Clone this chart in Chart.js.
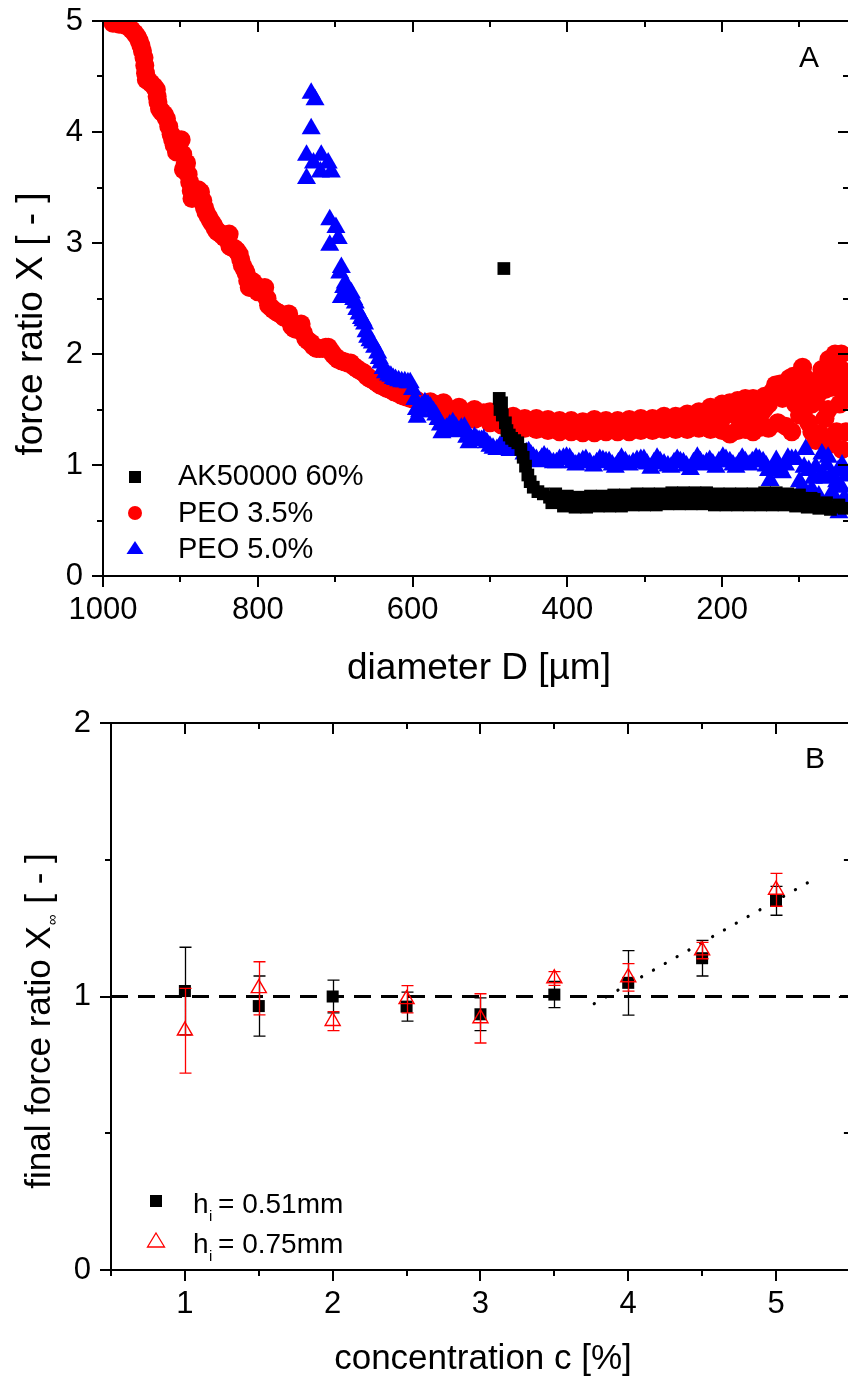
<!DOCTYPE html>
<html>
<head>
<meta charset="utf-8">
<script src="https://cdn.jsdelivr.net/npm/chart.js@4.4.1/dist/chart.umd.min.js"></script>
<style>
  html, body { margin: 0; padding: 0; background: #fff; }
  #wrap { position: relative; width: 848px; height: 1379px; overflow: hidden; }
  #wrap canvas { position: absolute; left: 0; }
  #topChart { top: 0; }
  #botChart { top: 700px; }
</style>
</head>
<body>
<div id="wrap">
  <canvas id="topChart" width="860" height="700"></canvas>
  <canvas id="botChart" width="860" height="679"></canvas>
</div>
<script>
// ---- panel A: force ratio vs diameter, [D (µm), X] ----
const ak50000 = [
  [482,2.77],[488,1.60],[485,1.56],[487,1.50],[484,1.45],[480,1.38],[478,1.31],[475,1.27],[472,1.24],
  [468,1.22],[464,1.20],[460,1.14],[457,1.07],[454,0.99],[451,0.91],[448,0.85],[444,0.80],[438,0.76],
  [431,0.74],[423,0.71],[416,0.70],[408,0.67],[400,0.66],[392,0.64],[385,0.66],[377,0.64],[369,0.67],
  [361,0.65],[353,0.68],[345,0.65],[337,0.69],[329,0.66],[321,0.70],[313,0.66],[305,0.70],[297,0.67],
  [289,0.71],[281,0.67],[273,0.71],[265,0.68],[257,0.72],[249,0.68],[241,0.72],[233,0.68],[225,0.72],
  [217,0.68],[209,0.71],[201,0.67],[193,0.71],[185,0.67],[177,0.71],[169,0.67],[161,0.71],[153,0.67],
  [145,0.71],[137,0.67],[129,0.72],[121,0.67],[113,0.71],[105,0.66],[97,0.70],[89,0.65],[81,0.69],
  [73,0.64],[65,0.66],[57,0.62],[49,0.64],[42,0.61],
  [420,0.66],[405,0.63],[390,0.62],[375,0.62],[360,0.63],[345,0.63],[330,0.63],[315,0.64],[300,0.64],
  [285,0.64],[270,0.65],[255,0.65],[240,0.65],[225,0.65],[210,0.64],[195,0.64],[180,0.64],[165,0.64],
  [150,0.64],[135,0.64],[120,0.64],[105,0.63],[90,0.62],[75,0.61],[60,0.60],
  [415,0.74],[400,0.72],[385,0.71],[370,0.72],[355,0.72],[340,0.73],[325,0.73],[310,0.74],[295,0.74],
  [280,0.74],[265,0.75],[250,0.75],[235,0.75],[220,0.75],[205,0.74],[190,0.74],[175,0.74],[160,0.74],
  [145,0.75],[130,0.75],[115,0.74],[100,0.73],[85,0.70]
];
const peo35 = [
  [987,4.98],[983,4.99],[979,4.97],[975,4.98],[971,4.96],[967,4.95],[963,4.92],[959,4.89],[956,4.86],
  [953,4.82],[951,4.78],[949,4.73],[947,4.67],[946,4.60],[945,4.53],[944,4.47],[941,4.46],[938,4.44],
  [934,4.41],[931,4.38],[930,4.32],[929,4.27],[927,4.21],[924,4.18],[921,4.16],[918,4.12],[915,4.05],
  [912,3.98],[910,3.93],[908,3.88],[905,3.82],[902,3.88],[899,3.93],[897,3.80],[896,3.66],[894,3.70],
  [892,3.72],[890,3.62],[888,3.55],[886,3.47],[885,3.40],[882,3.43],[880,3.46],[877,3.48],[874,3.46],
  [871,3.38],[869,3.32],[867,3.28],[864,3.24],[861,3.20],[858,3.17],[855,3.13],[852,3.10],[849,3.09],
  [846,3.07],[843,3.05],[840,3.07],[837,3.08],[836,2.97],[833,2.96],[830,2.95],[827,2.93],[824,2.90],
  [822,2.85],[820,2.80],[817,2.76],[815,2.73],[813,2.66],[811,2.60],[809,2.66],[806,2.65],[803,2.62],
  [800,2.56],[797,2.56],[794,2.59],[791,2.60],[788,2.50],[786,2.44],[783,2.42],[780,2.40],[776,2.38],
  [773,2.37],[769,2.35],[766,2.33],[763,2.35],[760,2.36],[758,2.29],[756,2.25],[753,2.23],[750,2.22],
  [747,2.25],[744,2.27],[741,2.19],[738,2.14],[735,2.12],[731,2.10],[728,2.07],[724,2.05],[720,2.05],
  [716,2.05],[712,2.06],[709,2.06],[705,2.02],[702,1.99],[699,1.97],[696,1.95],[692,1.94],[688,1.93],
  [684,1.92],[680,1.92],[676,1.89],[672,1.87],[668,1.85],[663,1.83],[659,1.80],[655,1.78],[650,1.76],
  [646,1.74],[642,1.72],[638,1.71],[633,1.69],[629,1.68],[624,1.66],[620,1.65],[615,1.63],[611,1.62],
  [607,1.61],[603,1.60],[598,1.59],[594,1.58],[590,1.56],[586,1.55],[581,1.56],[577,1.57],[572,1.55],
  [568,1.54],[564,1.52],[560,1.51],[555,1.50],[551,1.50],[547,1.48],[542,1.47],[538,1.47],[534,1.47],
  [529,1.46],[525,1.46],[520,1.45],[516,1.44],[512,1.45],[508,1.47],[503,1.44],[499,1.42],[495,1.41],
  [491,1.41],[486,1.40],[482,1.40],[478,1.39],[474,1.38],[469,1.38],[465,1.39],[461,1.38],[456,1.37],
  [452,1.36],[448,1.35],[444,1.37],[440,1.38],[435,1.37],[431,1.36],[427,1.35],[422,1.34],[418,1.33],
  [414,1.33],[410,1.35],[405,1.36],[401,1.34],[397,1.32],[392,1.33],[388,1.34],[384,1.33],[379,1.33],
  [375,1.34],[371,1.35],[366,1.33],[362,1.31],[358,1.32],[354,1.34],[349,1.35],[345,1.36],[341,1.34],
  [337,1.32],[332,1.33],[328,1.35],[324,1.36],[320,1.37],[315,1.35],[311,1.33],[307,1.35],[302,1.38],
  [298,1.36],[294,1.34],[290,1.35],[285,1.37],[281,1.38],[277,1.39],[272,1.37],[268,1.35],[264,1.37],
  [260,1.40],[255,1.38],[251,1.37],[247,1.39],[243,1.41],[238,1.40],[234,1.38],[230,1.41],[226,1.44],
  [221,1.42],[217,1.40],[213,1.44],[209,1.47],[204,1.45],[200,1.42],[196,1.46],[192,1.50],[187,1.48],
  [183,1.45],[179,1.49],[175,1.52],[170,1.47],[166,1.42],[162,1.46],[158,1.50],[153,1.49],[149,1.47],
  [145,1.51],[140,1.55],[136,1.63],[131,1.72],[127,1.66],[122,1.60],[118,1.69],[113,1.78],[109,1.66],
  [105,1.55],[100,1.70],[96,1.88],[92,1.78],[88,1.66],[84,1.55],[79,1.60],[75,1.65],[71,1.86],
  [67,1.68],[63,1.50],[58,1.70],[54,2.00],[51,1.78],[48,1.55],[44,1.85],[40,1.70],
  [560,1.47],[540,1.43],[520,1.41],[500,1.38],[485,1.36],[470,1.35],[455,1.33],[440,1.32],[425,1.31],
  [410,1.30],[395,1.30],[380,1.29],[365,1.29],[350,1.30],[335,1.30],[320,1.30],[305,1.31],[290,1.31],
  [275,1.32],[260,1.32],[245,1.32],[230,1.33],[215,1.32],[200,1.31],[190,1.28],[180,1.31],[170,1.32],
  [160,1.30],[150,1.34],[140,1.33],[128,1.38],[118,1.35],[110,1.30],[100,1.45],[94,1.50],[88,1.38],
  [84,1.30],[79,1.22],[73,1.28],[67,1.42],[63,1.18],[57,1.25],[52,1.30],[45,1.14],[40,1.30],
  [560,1.56],[540,1.52],[520,1.50],[500,1.48],[485,1.45],[470,1.44],[455,1.42],[440,1.42],[425,1.41],
  [410,1.40],[395,1.40],[380,1.39],[365,1.41],[350,1.40],[335,1.40],[320,1.41],[305,1.42],[290,1.42],
  [275,1.44],[260,1.44],[245,1.46],[230,1.48],[215,1.52],[200,1.55],[190,1.56],[180,1.58],[170,1.60],
  [160,1.60],[150,1.58],[145,1.62],[135,1.66],[125,1.73],[120,1.70],[108,1.80],[100,1.62],[90,1.72],
  [80,1.75],[70,1.80],[62,1.95],[55,1.90],[46,2.00],[42,1.62]
];
const peo50 = [
  [731,4.35],[726,4.29],[731,4.03],[737,3.79],[737,3.58],[728,3.72],[718,3.79],[719,3.64],[709,3.72],
  [705,3.64],[707,3.21],[699,3.14],[707,2.98],[696,3.04],[692,2.78],[694,2.73],[687,2.64],[692,2.51],
  [689,2.60],[686,2.56],[683,2.53],[679,2.55],[676,2.49],[674,2.46],[672,2.40],[669,2.36],[666,2.32],
  [664,2.30],[662,2.27],[660,2.20],[658,2.15],[655,2.12],[652,2.10],[649,2.06],[645,2.01],[643,1.96],
  [641,1.92],[638,1.87],[635,1.83],[631,1.81],[628,1.80],[625,1.78],[622,1.77],[618,1.76],[614,1.75],
  [610,1.75],[606,1.74],[603,1.74],[600,1.68],[597,1.59],[595,1.50],[594,1.43],[591,1.48],[588,1.53],
  [584,1.56],[580,1.54],[577,1.52],[573,1.48],[570,1.45],[567,1.41],[564,1.36],[562,1.29],[559,1.31],
  [556,1.33],[552,1.36],[548,1.38],[544,1.34],[540,1.30],[537,1.33],[533,1.34],[530,1.25],[527,1.20],
  [524,1.23],[520,1.25],[517,1.23],[514,1.22],[511,1.22],[508,1.23],[504,1.20],[500,1.17],[496,1.15],
  [491,1.14],[487,1.17],[484,1.18],[479,1.15],[474,1.13],[470,1.15],[465,1.16],[461,1.13],[456,1.10],
  [453,1.11],[450,1.12],[447,1.09],[444,1.07],[440,1.05],[436,1.03],[433,1.06],[430,1.08],[426,1.06],
  [423,1.04],[418,1.02],[414,1.02],[410,1.05],[405,1.06],[401,1.07],[397,1.06],[393,1.02],[389,1.00],
  [385,1.02],[380,1.04],[376,1.05],[371,1.02],[366,0.99],[362,1.02],[358,1.05],[354,1.04],[350,1.03],
  [346,1.03],[342,1.00],[338,0.98],[334,1.02],[330,1.06],[325,1.03],[320,1.00],[315,1.02],[310,1.04],
  [305,1.05],[301,1.05],[297,1.01],[292,0.97],[288,1.02],[284,1.06],[280,1.03],[275,1.01],[270,0.99],
  [266,0.98],[262,1.02],[258,1.05],[254,1.03],[250,1.02],[246,0.99],[241,0.96],[237,1.02],[232,1.07],
  [228,1.03],[224,1.00],[220,1.02],[216,1.04],[212,1.01],[208,0.98],[204,1.03],[199,1.07],[195,1.05],
  [190,1.03],[186,1.00],[182,0.98],[178,1.02],[174,1.06],[170,1.03],[165,1.00],[161,1.03],[156,1.06],
  [152,1.05],[147,1.03],[143,0.99],[140,0.95],[138,0.86],[134,0.96],[130,1.04],[126,0.98],[122,0.93],
  [118,1.00],[115,1.06],[110,1.05],[105,1.05],[100,0.85],[96,0.80],[94,0.98],[92,1.14],[88,0.95],
  [84,0.78],[82,0.88],[79,0.98],[75,0.72],[73,0.90],[71,1.10],[67,0.88],[65,1.00],[63,1.07],[60,0.90],
  [58,0.75],[54,0.68],[52,0.85],[50,0.95],[49,0.57],[46,0.80],[45,1.00],[42,0.70],[40,0.90]
];
const xMajorA = [1000, 800, 600, 400, 200];
const xMinorA = [900, 700, 500, 300, 100];
const yMajorA = [0, 1, 2, 3, 4, 5];
const yMinorA = [0.5, 1.5, 2.5, 3.5, 4.5];

// ---- panel B: final force ratio vs concentration ----
const conc = [1, 1.5, 2, 2.5, 3, 3.5, 4, 4.5, 5];
const xInf051 = [1.02, 0.965, 1.0, 0.963, 0.935, 1.007, 1.05, 1.14, 1.35];
const err051 = [0.16, 0.11, 0.06, 0.053, 0.06, 0.048, 0.118, 0.065, 0.053];
const xInf075 = [0.875, 1.03, 0.91, 0.99, 0.92, 1.066, 1.07, 1.168, 1.39];
const err075 = [0.155, 0.097, 0.035, 0.05, 0.09, 0.025, 0.05, 0.03, 0.06];
const refC = [0.5, 5.5], refX = [1, 1];
const fitC = [3.77, 5.26], fitX = [0.974, 1.43];
const xMajorB = [1, 2, 3, 4, 5];
const xMinorB = [0.5, 1.5, 2.5, 3.5, 4.5, 5.5];
const yMajorB = [0, 1, 2];
const yMinorB = [0.5, 1.5];

const FONT = '"Liberation Sans", Arial, sans-serif';
const pts = arr => arr.map(([x, y]) => ({ x, y }));
const zip = (xs, ys) => xs.map((x, i) => ({ x, y: ys[i] }));

// box with outward ticks bottom/left, inward ticks top/right
const framePlugin = {
  id: 'frame',
  afterDatasetsDraw(chart, args, o) {
    const { ctx, chartArea: a, scales: { x, y } } = chart;
    ctx.save();
    ctx.strokeStyle = '#000';
    ctx.lineWidth = 2;
    ctx.strokeRect(a.left, a.top, a.right - a.left, a.bottom - a.top);
    ctx.beginPath();
    const xt = (vals, len) => vals.forEach(v => {
      const p = Math.round(x.getPixelForValue(v));
      ctx.moveTo(p, a.bottom); ctx.lineTo(p, a.bottom + len);
      ctx.moveTo(p, a.top); ctx.lineTo(p, a.top + len);
    });
    const yt = (vals, len) => vals.forEach(v => {
      const p = Math.round(y.getPixelForValue(v));
      ctx.moveTo(a.left, p); ctx.lineTo(a.left - len, p);
      ctx.moveTo(a.right, p); ctx.lineTo(a.right - len, p);
    });
    xt(o.xMajor, 11); xt(o.xMinor, 6);
    yt(o.yMajor, 11); yt(o.yMinor, 6);
    ctx.stroke();
    ctx.restore();
  }
};

function tri(ctx, cx, apexY, baseY, half) {
  ctx.beginPath();
  ctx.moveTo(cx, apexY);
  ctx.lineTo(cx + half, baseY);
  ctx.lineTo(cx - half, baseY);
  ctx.closePath();
}

const decorA = {
  id: 'decorA',
  afterDraw(chart) {
    const ctx = chart.ctx;
    ctx.save();
    ctx.fillStyle = '#000';
    ctx.textAlign = 'center';
    ctx.textBaseline = 'alphabetic';
    ctx.font = '37px ' + FONT;
    ctx.fillText('diameter D [\u00b5m]', 479, 679);
    ctx.save();
    ctx.translate(42, 324);
    ctx.rotate(-Math.PI / 2);
    ctx.fillText('force ratio X [ - ]', 0, 0);
    ctx.restore();
    ctx.font = '30px ' + FONT;
    ctx.fillText('A', 809, 67);
    // legend
    ctx.fillStyle = '#000';
    ctx.fillRect(129, 471, 12, 12);
    ctx.fillStyle = '#ff0000';
    ctx.beginPath(); ctx.arc(135, 513, 7, 0, Math.PI * 2); ctx.fill();
    ctx.fillStyle = '#0000ff';
    tri(ctx, 135, 541, 554, 8.5); ctx.fill();
    ctx.fillStyle = '#000';
    ctx.textAlign = 'left';
    ctx.font = '29px ' + FONT;
    ctx.fillText('AK50000 60%', 178, 485);
    ctx.fillText('PEO 3.5%', 178, 522);
    ctx.fillText('PEO 5.0%', 178, 558);
    ctx.restore();
  }
};

const errorBars = {
  id: 'errorBars',
  beforeDatasetDraw(chart, args) {
    const ds = chart.data.datasets[args.index];
    if (!ds.errors) return;
    const { ctx, scales: { x, y } } = chart;
    ctx.save();
    ctx.strokeStyle = ds.errColor;
    ctx.lineWidth = 1.3;
    ctx.beginPath();
    ds.data.forEach((p, i) => {
      const px = Math.round(x.getPixelForValue(p.x)) + 0.5;
      const hi = y.getPixelForValue(p.y + ds.errors[i]);
      const lo = y.getPixelForValue(p.y - ds.errors[i]);
      ctx.moveTo(px, hi); ctx.lineTo(px, lo);
      ctx.moveTo(px - 6, hi); ctx.lineTo(px + 6, hi);
      ctx.moveTo(px - 6, lo); ctx.lineTo(px + 6, lo);
    });
    ctx.stroke();
    ctx.restore();
  }
};

const decorB = {
  id: 'decorB',
  afterDraw(chart) {
    const ctx = chart.ctx;
    ctx.save();
    ctx.fillStyle = '#000';
    ctx.textBaseline = 'alphabetic';
    ctx.textAlign = 'center';
    ctx.font = '35px ' + FONT;
    ctx.fillText('concentration c [%]', 483, 669);
    ctx.font = '30px ' + FONT;
    ctx.fillText('B', 815, 68);
    // rotated y title with subscript
    ctx.save();
    ctx.translate(50, 322);
    ctx.rotate(-Math.PI / 2);
    ctx.textAlign = 'left';
    const big = '35px ' + FONT, small = '15px ' + FONT;
    const p1 = 'final force ratio X', sub = '\u221e', p2 = ' [ - ]';
    ctx.font = big; const w1 = ctx.measureText(p1).width, w3 = ctx.measureText(p2).width;
    ctx.font = small; const w2 = ctx.measureText(sub).width;
    let sx = -(w1 + w2 + w3) / 2;
    ctx.font = big; ctx.fillText(p1, sx, 0); sx += w1;
    ctx.font = small; ctx.fillText(sub, sx + 1, 7); sx += w2 + 2;
    ctx.font = big; ctx.fillText(p2, sx, 0);
    ctx.restore();
    // legend
    ctx.textAlign = 'left';
    ctx.fillRect(150, 495, 12, 12);
    ctx.strokeStyle = '#ff0000';
    ctx.lineWidth = 1.3;
    tri(ctx, 156, 533, 547, 8.5); ctx.stroke();
    const rows = [['= 0.51mm', 513], ['= 0.75mm', 553]];
    rows.forEach(([t, base]) => {
      ctx.font = '28px ' + FONT;
      ctx.fillText('h', 193, base);
      ctx.font = '15px ' + FONT;
      ctx.fillText('i', 209, base + 8);
      ctx.font = '28px ' + FONT;
      ctx.fillText(t, 218, base);
    });
    ctx.restore();
  }
};

function axisCfg(min, max, ticks, fit, pad, extra) {
  return Object.assign({
    type: 'linear', min, max,
    grid: { display: false, drawTicks: false },
    border: { display: false },
    afterBuildTicks: s => { s.ticks = ticks.map(v => ({ value: v })); },
    afterFit: s => {
      fit(s);
      s.paddingTop = s.paddingBottom = s.paddingLeft = s.paddingRight = 0;
    },
    ticks: { color: '#000', padding: pad, font: { family: FONT, size: 31 }, callback: v => String(v) }
  }, extra);
}

new Chart(document.getElementById('topChart'), {
  type: 'scatter',
  data: {
    datasets: [
      { label: 'AK50000 60%', data: pts(ak50000), pointStyle: 'rect', pointRadius: 9,
        backgroundColor: '#000', borderWidth: 0, order: 1, clip: 0 },
      { label: 'PEO 3.5%', data: pts(peo35), pointStyle: 'circle', pointRadius: 9.5,
        backgroundColor: '#ff0000', borderWidth: 0, order: 3, clip: 0 },
      { label: 'PEO 5.0%', data: pts(peo50), pointStyle: 'triangle', pointRadius: 11,
        backgroundColor: '#0000ff', borderWidth: 0, order: 2, clip: 0 }
    ]
  },
  options: {
    responsive: false, animation: false,
    layout: { padding: { top: 21, right: 6, left: 0, bottom: 0 } },
    plugins: {
      legend: { display: false }, tooltip: { enabled: false },
      frame: { xMajor: xMajorA, xMinor: xMinorA, yMajor: yMajorA, yMinor: yMinorA }
    },
    scales: {
      x: axisCfg(36, 1000, xMajorA, s => { s.height = 124; }, 16, { reverse: true }),
      y: axisCfg(0, 5, yMajorA, s => { s.width = 103; }, 20)
    }
  },
  plugins: [framePlugin, decorA]
});

new Chart(document.getElementById('botChart'), {
  type: 'scatter',
  data: {
    datasets: [
      { label: 'h_i = 0.51mm', data: zip(conc, xInf051), errors: err051, errColor: '#000',
        pointStyle: 'rect', pointRadius: 8.5, backgroundColor: '#000', borderWidth: 0, order: 2 },
      { label: 'h_i = 0.75mm', data: zip(conc, xInf075), errors: err075, errColor: '#ff0000',
        pointStyle: 'triangle', pointRadius: 8.7, backgroundColor: 'rgba(0,0,0,0)',
        borderColor: '#ff0000', borderWidth: 1.4, order: 1 },
      { label: 'X = 1', data: zip(refC, refX), showLine: true, pointRadius: 0,
        borderColor: '#000', borderWidth: 3, borderDash: [17, 10], order: 3 },
      { label: 'trend', data: zip(fitC, fitX), showLine: true, pointRadius: 0,
        borderColor: '#000', borderWidth: 3.2, borderDash: [0.1, 13.5], borderCapStyle: 'round', order: 4 }
    ]
  },
  options: {
    responsive: false, animation: false,
    layout: { padding: { top: 23, right: 5.5, left: 0, bottom: 0 } },
    plugins: {
      legend: { display: false }, tooltip: { enabled: false },
      frame: { xMajor: xMajorB, xMinor: xMinorB, yMajor: yMajorB, yMinor: yMinorB }
    },
    scales: {
      x: axisCfg(0.5, 5.5, xMajorB, s => { s.height = 109; }, 16),
      y: axisCfg(0, 2, yMajorB, s => { s.width = 111; }, 20)
    }
  },
  plugins: [framePlugin, errorBars, decorB]
});
</script>
</body>
</html>
